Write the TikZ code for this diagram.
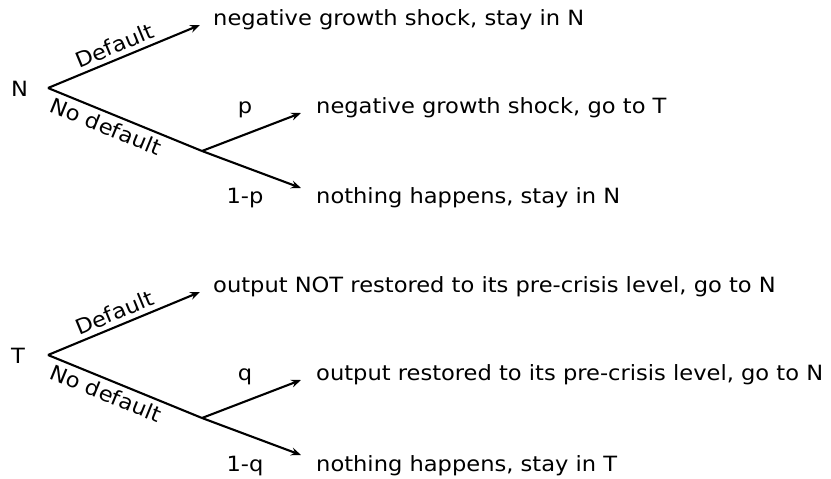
\documentclass[tikz,border=0pt]{standalone}
\usepackage{fontspec}
\setmainfont{DejaVu Sans}[FakeStretch=1.075]
\usetikzlibrary{arrows.meta}
\begin{document}
\begin{tikzpicture}[x=1pt,y=-1pt,
  every node/.style={font=\fontsize{21}{25}\selectfont, inner sep=0pt},
  branch/.style={line width=2.1pt},
  arr/.style={line width=2.1pt, -{Stealth[length=10pt,width=8pt,inset=3.5pt]}},
  txt/.style={anchor=base west},
  lbl/.style={anchor=base},
  edgelbl/.style={sloped, inner sep=4.5pt}]
\useasboundingbox (0,0) rectangle (831,479);
% top tree
\coordinate (rN) at (48,88);
\coordinate (bN) at (202,151);
\coordinate (aN1) at (200,25);
\coordinate (aN2) at (301,113);
\coordinate (aN3) at (301,188);
\node[txt] (lN) at (11,96) {N};
\node[txt] (tN1) at (213,25) {negative growth shock, stay in N};
\node[txt] (tN2) at (316,113) {negative growth shock, go to T};
\node[txt] (tN3) at (316,203) {nothing happens, stay in N};
\node[lbl] (pN) at (245,113) {p};
\node[lbl] (qN) at (245,203) {1-p};
\draw[arr] (rN) -- node[edgelbl, above, pos=0.47] {Default} (aN1);
\draw[branch] (rN) -- node[edgelbl, below, pos=0.41] {No default} (bN);
\draw[arr] (bN) -- (aN2);
\draw[arr] (bN) -- (aN3);
% bottom tree
\coordinate (rT) at (48,355);
\coordinate (bT) at (202,418);
\coordinate (aT1) at (200,292);
\coordinate (aT2) at (301,380);
\coordinate (aT3) at (301,455);
\node[txt] (lT) at (11,363) {T};
\node[txt] (tT1) at (213,292) {output NOT restored to its pre-crisis level, go to N};
\node[txt] (tT2) at (316,380) {output restored to its pre-crisis level, go to N};
\node[txt] (tT3) at (316,471) {nothing happens, stay in T};
\node[lbl] (pT) at (245,380) {q};
\node[lbl] (qT) at (245,471) {1-q};
\draw[arr] (rT) -- node[edgelbl, above, pos=0.47] {Default} (aT1);
\draw[branch] (rT) -- node[edgelbl, below, pos=0.41] {No default} (bT);
\draw[arr] (bT) -- (aT2);
\draw[arr] (bT) -- (aT3);
\end{tikzpicture}
\end{document}
